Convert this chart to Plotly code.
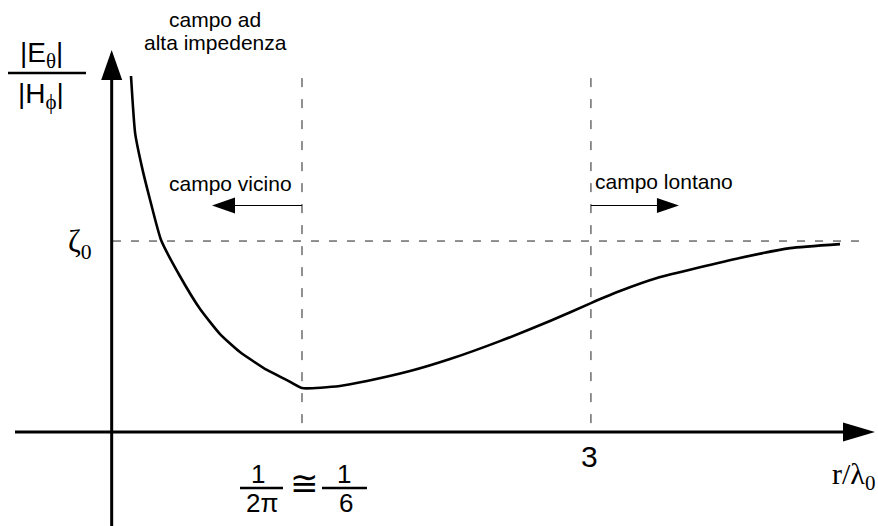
import math
import plotly.graph_objects as go

# Wave impedance |E_theta| / |H_phi| (in units of zeta0) against r / lambda0
r_over_lambda = [0.0280, 0.0292, 0.0313, 0.0340, 0.0380, 0.0460, 0.0565, 0.0692,
                 0.0847, 0.1114, 0.1366, 0.1592, 0.234, 0.308, 0.477, 0.716,
                 1.190, 1.978, 3.0, 4.03, 5.87, 13.6, 22.7, 37.7]
impedance_ratio = [1.864, 1.565, 1.387, 1.215, 1.005, 0.817, 0.644, 0.513,
                   0.419, 0.325, 0.272, 0.230, 0.241, 0.267, 0.319, 0.382,
                   0.476, 0.581, 0.675, 0.738, 0.806, 0.911, 0.963, 0.984]

ZETA0 = 1.0                      # free-space impedance level
NEAR_LIMIT = 1 / (2 * math.pi)   # boundary of the near field
FAR_LIMIT = 3.0                  # start of the far field
region_labels = ["campo vicino", "campo lontano"]
high_z_label = ["campo ad", "alta impedenza"]

X_LOG_RANGE = [-2.131, 1.744]
Y_RANGE = [-0.492, 2.262]
GUIDE_TOP = 1.853
ARROW_Y = 1.186

SANS = "Liberation Sans"
SERIF = "Liberation Serif"
INK = "black"

fig = go.Figure()

# the impedance curve: steep fall, minimum at the near-field boundary, slow rise to zeta0
fig.add_trace(go.Scatter(
    x=r_over_lambda, y=impedance_ratio, mode="lines",
    line=dict(color=INK, width=2.6, shape="spline", smoothing=0.5), hoverinfo="skip"))

# dashed boundaries of the two regions
for xb in (NEAR_LIMIT, FAR_LIMIT):
    fig.add_trace(go.Scatter(
        x=[xb, xb], y=[GUIDE_TOP, 0], mode="lines",
        line=dict(color="#222222", width=1, dash="9px,12px"), hoverinfo="skip"))

shapes = []


def pixel_path(xref, xanchor, yanchor, path, fill=True, width=0):
    """Shape drawn in pixel offsets around an anchor point."""
    shapes.append(dict(type="path", xref=xref, yref="y",
                       xsizemode="pixel", ysizemode="pixel",
                       xanchor=xanchor, yanchor=yanchor, path=path,
                       fillcolor=INK if fill else "rgba(0,0,0,0)",
                       line=dict(color=INK, width=width)))


# dashed zeta0 level
shapes.append(dict(type="line", xref="paper", yref="y", x0=0.1287, x1=0.983,
                   y0=ZETA0, y1=ZETA0,
                   line=dict(color="#222222", width=1, dash="8px,10px")))

# vertical axis with arrow
shapes.append(dict(type="line", xref="paper", yref="y", x0=0.1272, x1=0.1272,
                   y0=Y_RANGE[0] - 0.2, y1=1.843, line=dict(color=INK, width=3)))
pixel_path("paper", 0.1272, 2.0, "M -10.5,-30 L 10.5,-30 L 0,0 Z")

# horizontal axis with arrow
shapes.append(dict(type="line", xref="paper", yref="y", x0=0.0171, x1=0.962,
                   y0=0, y1=0, line=dict(color=INK, width=3)))
pixel_path("paper", 0.9966, 0, "M -32,-9.5 L -32,9.5 L 0,0 Z")

# region arrows
pixel_path("x", NEAR_LIMIT, ARROW_Y, "M 0,0 L -68,0", fill=False, width=1)
pixel_path("x", NEAR_LIMIT, ARROW_Y, "M -67,-8 L -67,8 L -90,0 Z")
pixel_path("x", FAR_LIMIT, ARROW_Y, "M 0,0 L 67,0", fill=False, width=1)
pixel_path("x", FAR_LIMIT, ARROW_Y, "M 66,-7.5 L 66,7.5 L 88,0 Z")

# fraction bars of the 1/(2 pi) ~ 1/6 label
FRAC_Y = -0.293
pixel_path("x", NEAR_LIMIT, FRAC_Y, "M -62,0 L -19,0", fill=False, width=2.5)
pixel_path("x", NEAR_LIMIT, FRAC_Y, "M 20,0 L 65,0", fill=False, width=2.5)

# fraction bar of the y-axis label
shapes.append(dict(type="line", xref="paper", yref="paper", x0=8 / 878, x1=86 / 878,
                   y0=1 - 73 / 526, y1=1 - 73 / 526, line=dict(color=INK, width=2.5)))

ann = []


def paper_text(text, x, y, size, family=SANS, xanchor="center"):
    ann.append(dict(text=text, xref="paper", yref="paper", x=x, y=y,
                    xanchor=xanchor, yanchor="middle", showarrow=False,
                    font=dict(size=size, family=family, color=INK)))


def axis_text(text, xref_val, xshift, y, size, family=SANS, xanchor="center"):
    ann.append(dict(text=text, xref="x", yref="y", x=math.log10(xref_val), y=y,
                    xshift=xshift, xanchor=xanchor, yanchor="middle", showarrow=False,
                    font=dict(size=size, family=family, color=INK)))


paper_text(high_z_label[0], 215 / 878, 1 - 20 / 526, 21)
paper_text(high_z_label[1], 215 / 878, 1 - 43 / 526, 21)

axis_text(region_labels[0], NEAR_LIMIT, -8, 1.30, 21, xanchor="right")
axis_text(region_labels[1], FAR_LIMIT, 2, 1.31, 21, xanchor="left")

# tick labels on r / lambda0
axis_text("3", FAR_LIMIT, -1, -0.13, 30)
axis_text("1", NEAR_LIMIT, -44, -0.222, 26)
axis_text("2π", NEAR_LIMIT, -40, -0.37, 26)
axis_text("≅", NEAR_LIMIT, 3, -0.265, 34, family="DejaVu Sans")
axis_text("1", NEAR_LIMIT, 42, -0.222, 26)
axis_text("6", NEAR_LIMIT, 44, -0.37, 26)

# axis titles
SUB = "<sub><span style='font-family:Liberation Serif;font-size:21px'>{}</span></sub>"
paper_text("|E" + SUB.format("θ") + "|", 41 / 878, 1 - 55 / 526, 28)
paper_text("|H" + SUB.format("ϕ") + "|", 41 / 878, 1 - 96 / 526, 28)
paper_text("ζ<sub>0</sub>", 80 / 878, 1 - 244 / 526, 31, family=SERIF)
paper_text("r/λ<sub>0</sub>", 877 / 878, 1 - 476 / 526, 30, family=SERIF, xanchor="right")

fig.update_layout(
    width=878, height=526,
    margin=dict(l=0, r=0, t=0, b=0),
    paper_bgcolor="white", plot_bgcolor="white",
    showlegend=False,
    font=dict(family=SANS, color=INK),
    xaxis=dict(type="log", range=X_LOG_RANGE, visible=False, fixedrange=True),
    yaxis=dict(range=Y_RANGE, visible=False, fixedrange=True),
    shapes=shapes, annotations=ann,
)

fig.write_html("out.html")
